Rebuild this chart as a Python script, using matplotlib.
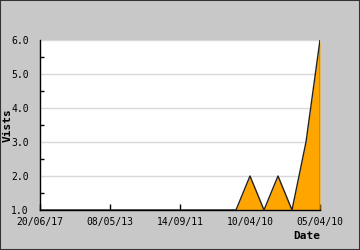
import matplotlib
matplotlib.use("Agg")
import matplotlib.pyplot as plt
from matplotlib.ticker import MultipleLocator
from matplotlib.patches import Rectangle

visits = [1, 1, 1, 1, 1, 1, 1, 1, 1, 1, 1, 1, 1, 1, 1, 2, 1, 2, 1, 3, 6]
tick_labels = ["20/06/17", "08/05/13", "14/09/11", "10/04/10", "05/04/10"]
tick_positions = [0, 5, 10, 15, 20]

font = "DejaVu Sans Mono"
fig = plt.figure(figsize=(3.6, 2.5), dpi=100, facecolor="#c8c8c8")
ax = fig.add_axes([40/360, 40/250, 280/360, 170/250])
ax.set_facecolor("white")

x = list(range(len(visits)))
ax.fill_between(x, 1, visits, color="#ffa500", zorder=2, linewidth=0)
ax.plot(x, visits, color="#222222", linewidth=1.0, zorder=3)
ax.plot([x[-1], x[-1]], [1, visits[-1]], color="#222222", linewidth=1.0, zorder=3)

ax.set_xlim(0, 20)
ax.set_ylim(1, 6)
ax.yaxis.set_minor_locator(MultipleLocator(0.5))
ax.set_yticks([1, 2, 3, 4, 5, 6])
ax.set_yticklabels([f"{v:.1f}" for v in [1, 2, 3, 4, 5, 6]], fontfamily=font, fontsize=7)
ax.set_xticks(tick_positions)
ax.set_xticklabels(tick_labels, fontfamily=font, fontsize=7)
ax.grid(axis="y", which="major", color="#d8d8d8", linewidth=1, zorder=1)
ax.tick_params(axis="both", which="both", direction="in", color="black", width=1)
ax.tick_params(axis="y", which="major", length=0, pad=8)
ax.tick_params(axis="y", which="minor", length=3)
ax.tick_params(axis="x", which="major", length=4, pad=5)

for s in ["top", "right"]:
    ax.spines[s].set_visible(False)
for s in ["left", "bottom"]:
    ax.spines[s].set_color("black")
    ax.spines[s].set_linewidth(1)
    ax.spines[s].set_zorder(4)

ax.set_ylabel("Vists", fontfamily=font, fontsize=8, fontweight="bold")
ax.yaxis.set_label_coords(-27.5/280, 0.5)
fig.text(320/360, 1 - 236/250, "Date", ha="right", va="center",
         fontfamily=font, fontsize=8, fontweight="bold")

fig.patches.append(Rectangle((0, 0), 1, 1, transform=fig.transFigure,
                             fill=False, edgecolor="#333333", linewidth=1.5))
fig.savefig("out.png", dpi=100, facecolor=fig.get_facecolor())
